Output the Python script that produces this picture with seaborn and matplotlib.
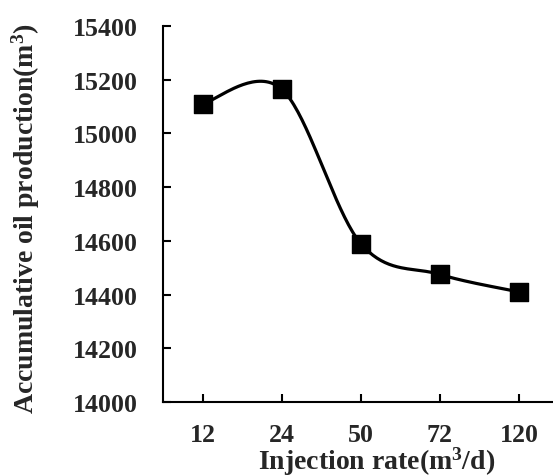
import numpy as np
import pandas as pd
import seaborn as sns
import matplotlib.pyplot as plt

# data
rates = ["12", "24", "50", "72", "120"]
oil = [15110, 15165, 14590, 14475, 14410]
y_ticks = [14000, 14200, 14400, 14600, 14800, 15000, 15200, 15400]

sns.set_style("ticks")
plt.rcParams["font.family"] = ["Liberation Serif", "DejaVu Serif"]
plt.rcParams["font.weight"] = "bold"
plt.rcParams["mathtext.fontset"] = "custom"
plt.rcParams["mathtext.rm"] = "Liberation Serif:bold"
plt.rcParams["mathtext.default"] = "rm"


def smooth(xs, ys, n=40):
    # Catmull-Rom style smoothing like a spreadsheet "smoothed line"
    pts = np.column_stack([xs, ys]).astype(float)
    pts = np.vstack([pts[0], pts, pts[-1]])
    out = []
    t = np.linspace(0, 1, n)[:, None]
    for i in range(1, len(pts) - 2):
        p0, p1, p2, p3 = pts[i - 1], pts[i], pts[i + 1], pts[i + 2]
        c1 = p1 + (p2 - p0) / 6
        c2 = p2 - (p3 - p1) / 6
        seg = (1 - t) ** 3 * p1 + 3 * (1 - t) ** 2 * t * c1 + 3 * (1 - t) * t ** 2 * c2 + t ** 3 * p2
        out.append(seg)
    return np.vstack(out)


df = pd.DataFrame({"pos": np.arange(len(rates)), "oil": oil})
curve = smooth(df["pos"], df["oil"])
curve_df = pd.DataFrame({"x": curve[:, 0], "y": curve[:, 1]})

fig = plt.figure(figsize=(5.53, 4.77), dpi=100)
ax = fig.add_axes([163 / 553, 74 / 477, 390 / 553, 376 / 477])

sns.lineplot(data=curve_df, x="x", y="y", sort=False, color="black", linewidth=2.3, ax=ax)
sns.scatterplot(data=df, x="pos", y="oil", marker="s", s=160, color="black", edgecolor="black", ax=ax, zorder=3)

ax.set_xlim(-0.5, 4.43)
ax.set_ylim(14000, 15400)
ax.set_xticks(df["pos"])
ax.set_xticklabels(rates)
ax.set_yticks(y_ticks)
ax.tick_params(direction="in", length=6, width=1.5, labelsize=18.6, color="black")
ax.tick_params(axis="x", pad=15)
ax.tick_params(axis="y", pad=18)
for lab in ax.get_xticklabels() + ax.get_yticklabels():
    lab.set_fontweight("bold")

sns.despine(ax=ax)
for side in ["left", "bottom"]:
    ax.spines[side].set_linewidth(1.5)
    ax.spines[side].set_color("black")

ax.set_xlabel("Injection rate(m$^{3}$/d)", fontsize=20, fontweight="bold")
ax.set_ylabel("Accumulative oil production(m$^{3}$)", fontsize=20, fontweight="bold")
ax.xaxis.set_label_coords(0.549, -0.112)
ax.yaxis.set_label_coords(-0.31, 0.49)

fig.savefig("out.png", dpi=100)
